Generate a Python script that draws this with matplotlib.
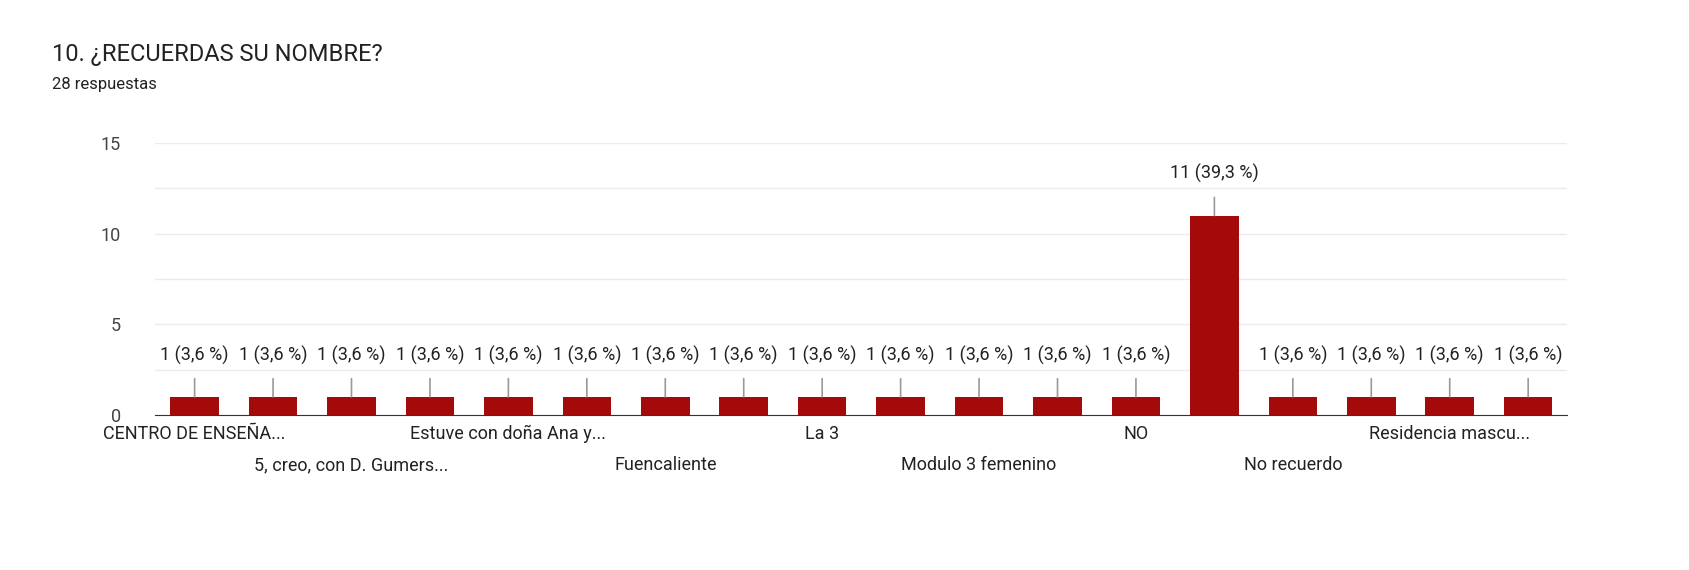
import matplotlib
matplotlib.use("Agg")
import matplotlib.pyplot as plt
import numpy as np

plt.rcParams["font.family"] = "Roboto"

# ── Data ──────────────────────────────────────────────
TITLE = "10. ¿RECUERDAS SU NOMBRE?"
SUBTITLE = "28 respuestas"
categories = [
    "CENTRO DE ENSEÑA...", "Centro penitenciario...",
    "5, creo, con D. Gumers...", "Creo que era...",
    "Estuve con doña Ana y...", "Escuela...",
    "Fuencaliente", "Instituto...",
    "La 3", "Modulo 3",
    "Modulo 3 femenino", "Modulo 4",
    "NO", "No",
    "No recuerdo", "Pabellon...",
    "Residencia mascu...", "Residencia...",
]
counts = [1, 1, 1, 1, 1, 1, 1, 1, 1, 1, 1, 1, 1, 11, 1, 1, 1, 1]
total = 28
BAR_COLOR = "#a50a0a"

fig = plt.figure(figsize=(16.89, 5.7), dpi=100)
ax = fig.add_axes([0.092, 0.272, 0.836, 0.477])

x = np.arange(len(categories))
ax.bar(x, counts, width=0.62, color=BAR_COLOR, zorder=3)
ax.set_xlim(-0.5, len(categories) - 0.5)
ax.set_ylim(0, 15)
ax.set_yticks([0, 5, 10, 15])
ax.set_yticks([2.5, 7.5, 12.5], minor=True)
ax.grid(axis="y", which="both", color="#ebebeb", lw=1, zorder=0)
ax.tick_params(axis="y", which="both", length=0, labelsize=13, colors="#444444", pad=25)
for s in ["top", "right", "left"]:
    ax.spines[s].set_visible(False)
ax.spines["bottom"].set_color("#333333")

# x labels: every other category, alternating rows
ax.set_xticks([])
for i in range(0, len(categories), 2):
    row = (i // 2) % 2
    ax.annotate(categories[i], (i, 0), xycoords="data",
                xytext=(0, -14 - 22 * row), textcoords="offset points",
                ha="center", va="center", fontsize=13, color="#222222",
                annotation_clip=False)

# value labels with leader lines
for i, c in enumerate(counts):
    pct = f"{c / total * 100:.1f}".replace(".", ",")
    ax.annotate(f"{c} ({pct} %)", (i, c), xytext=(0, 30), textcoords="offset points",
                ha="center", va="center", fontsize=13, color="#222222",
                annotation_clip=False,
                arrowprops=dict(arrowstyle="-", color="#999999", lw=1.2,
                                shrinkA=8, shrinkB=0))

fig.text(0.031, 0.905, TITLE, fontsize=17, color="#222222", va="center")
fig.text(0.031, 0.852, SUBTITLE, fontsize=12, color="#222222", va="center")

fig.savefig("out.png", dpi=100)
